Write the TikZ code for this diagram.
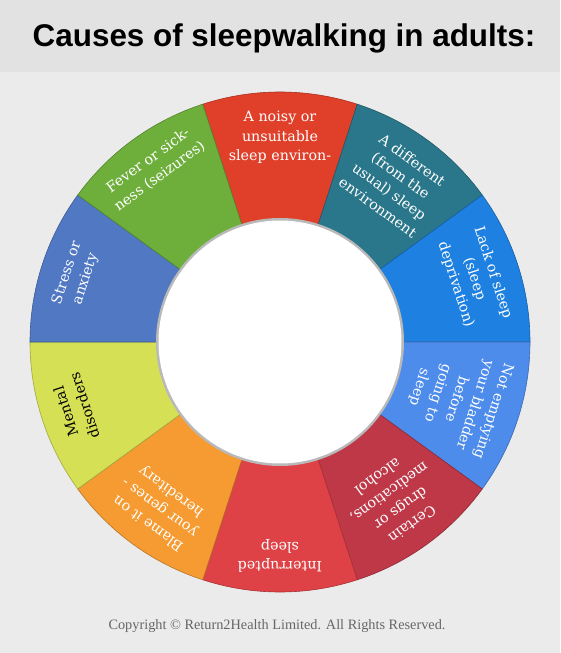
\documentclass[tikz,border=0pt]{standalone}
\usepackage{fontspec}
\setmainfont{DejaVu Serif}
\newfontfamily\headfont{Liberation Sans}
\newfontfamily\notefont{Liberation Serif}
\definecolor{pagegray}{HTML}{EBEBEB}
\definecolor{bandgray}{HTML}{E2E2E2}
\definecolor{notegray}{HTML}{666666}
\definecolor{noisyred}{HTML}{E0402A}
\definecolor{diffteal}{HTML}{2A768A}
\definecolor{lackblue}{HTML}{1E80E0}
\definecolor{bladderblue}{HTML}{4D8CEB}
\definecolor{drugred}{HTML}{BE3848}
\definecolor{brokenred}{HTML}{DE4246}
\definecolor{genesorange}{HTML}{F59B32}
\definecolor{mentalyellow}{HTML}{D5E055}
\definecolor{stressblue}{HTML}{5078C3}
\definecolor{fevergreen}{HTML}{6EAF3C}
\tikzset{cause/.style={align=center,inner sep=0pt,anchor=north,font=\fontsize{14.3}{19.5}\selectfont}}
\begin{document}
\begin{tikzpicture}[x=1pt,y=1pt]
\useasboundingbox (0,0) rectangle (560,653);
\fill[pagegray] (0,0) rectangle (560,653);
\fill[bandgray] (0,581) rectangle (560,653);
\node[font=\headfont\bfseries\fontsize{31.4}{36}\selectfont] (title) at (284,615) {Causes of sleepwalking in adults:};
\coordinate (O) at (280,311);
% ring of ten causes, 36 degrees each
\begin{scope}[shift={(O)}]
\foreach \a/\c/\tc/\t [count=\i] in {
  90/noisyred/white/{A noisy or\\unsuitable\\sleep environ-},
  54/diffteal/white/{A different\\(from the\\usual) sleep\\environment},
  18/lackblue/white/{Lack of sleep\\(sleep\\deprivation)},
  342/bladderblue/white/{Not emptying\\your bladder\\before\\going to\\sleep},
  306/drugred/white/{Certain\\drugs or\\medications,\\alcohol},
  270/brokenred/white/{Interrupted\\sleep},
  234/genesorange/white/{Blame it on\\your genes -\\hereditary},
  198/mentalyellow/black/{Mental\\disorders},
  162/stressblue/white/{Stress or\\anxiety},
  126/fevergreen/white/{Fever or sick-\\ness (seizures)}}
{
  \filldraw[fill=\c,draw=\c!75!black,line width=0.6] (\a-18:122) -- (\a-18:250)
    arc[start angle=\a-18,end angle=\a+18,radius=250] -- (\a+18:122)
    arc[start angle=\a+18,end angle=\a-18,radius=122] -- cycle;
  \node[cause,text=\tc,rotate=\a-90] (cause\i) at (\a:231) {\t};
}
\fill[gray!55] (0,0) circle (124);
\fill[white] (0,0) circle (121.5);
\end{scope}
\node[font=\notefont\fontsize{14.3}{17}\selectfont,text=notegray] (note) at (277,27) {Copyright © Return2Health Limited. All Rights Reserved.};
\end{tikzpicture}
\end{document}
